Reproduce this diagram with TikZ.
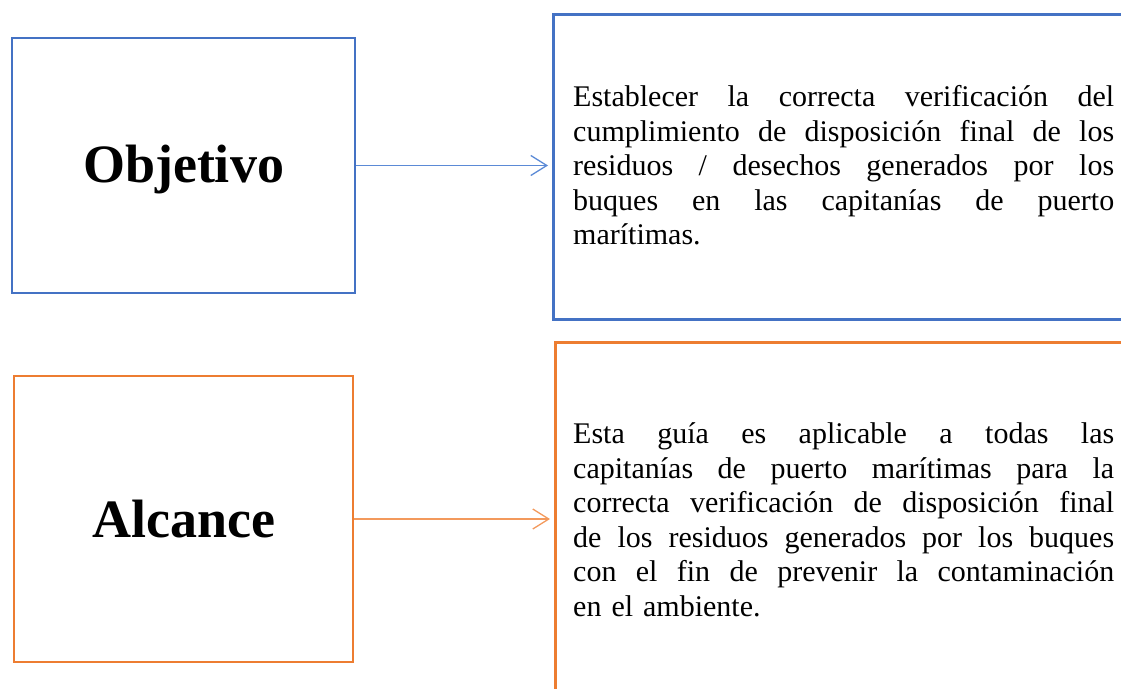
\documentclass[tikz,border=0pt]{standalone}
\usepackage{fontspec}
\setmainfont{Liberation Serif}
\usetikzlibrary{arrows.meta}
\definecolor{boxblue}{HTML}{4472C4}
\definecolor{boxorange}{HTML}{ED7D31}
\definecolor{arrblue}{HTML}{5B8AD6}
\definecolor{arrorange}{HTML}{F3995C}
\tikzset{
  titlebox/.style={draw, line width=2.8pt, rectangle, inner sep=0pt,
    font=\bfseries\fontsize{54}{60}\selectfont},
  textbox/.style={draw, line width=2.8pt, rectangle, inner sep=0pt, anchor=north west},
  bodytext/.style={anchor=north west, inner sep=0pt, text width=541pt, align=left,
    font=\fontsize{30}{34.5}\selectfont},
  link/.style={line width=1.3pt, -{Straight Barb[length=16pt,width=20pt,line width=1.3pt]}, shorten >=4pt}
}
\newcommand{\jline}[1]{\leavevmode\hbox to 541pt{\spaceskip=0.25em plus 1fil minus 0.08em\relax #1}}
\begin{document}
\begin{tikzpicture}[x=1pt,y=-1pt]
\useasboundingbox (0,0) rectangle (1121,688);
\clip (0,0) rectangle (1121,688);
% top row
\node[titlebox, boxblue, text=black, text depth=3pt, minimum width=343pt, minimum height=255pt] (obj) at (183.5,165.5) {Objetivo};
\node[textbox, boxblue, minimum width=620pt, minimum height=305pt] (box1) at (552,13) {};
\node[bodytext] (t1) at (573,82.5) {\strut\jline{Establecer la correcta verificación del}\\
\jline{cumplimiento de disposición final de los}\\
\jline{residuos / desechos generados por los}\\
\jline{buques en las capitanías de puerto}\\
marítimas.};
% bottom row
\node[titlebox, boxorange, text=black, minimum width=339pt, minimum height=286pt] (alc) at (183.5,519) {Alcance};
\node[textbox, boxorange, minimum width=620pt, minimum height=400pt] (box2) at (554,341) {};
\node[bodytext] (t2) at (573,419.5) {\strut\jline{Esta guía es aplicable a todas las}\\
\jline{capitanías de puerto marítimas para la}\\
\jline{correcta verificación de disposición final}\\
\jline{de los residuos generados por los buques}\\
\jline{con el fin de prevenir la contaminación}\\
en el ambiente.};
% connectors
\draw[link, arrblue] (obj.east) -- (obj.east -| box1.west);
\draw[link, arrorange] (alc.east) -- (alc.east -| box2.west);
\end{tikzpicture}
\end{document}
